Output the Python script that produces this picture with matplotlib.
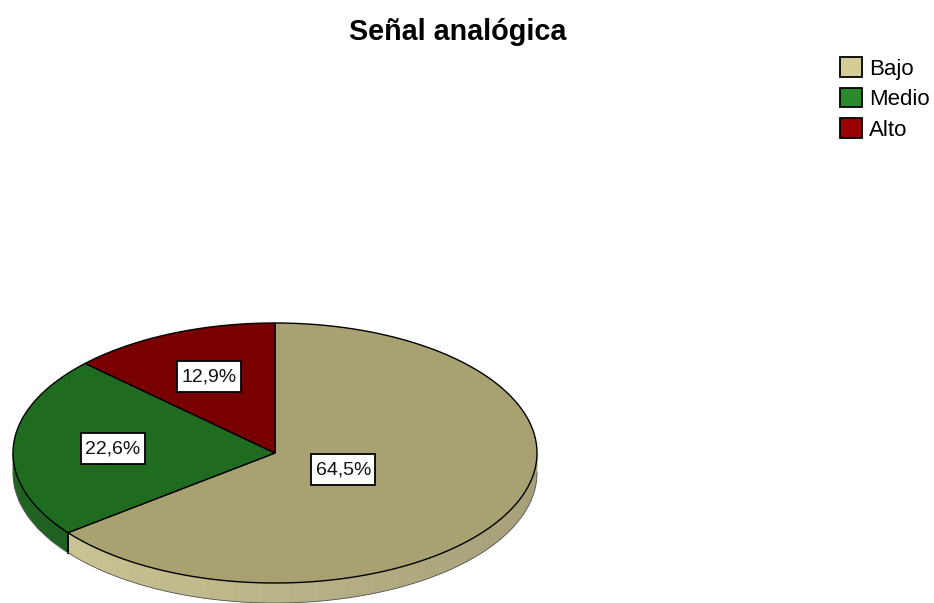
import numpy as np
import matplotlib
matplotlib.use("Agg")
import matplotlib.pyplot as plt
from matplotlib.patches import Polygon, Patch, Rectangle
import matplotlib.colors as mcolors

plt.rcParams['font.family'] = ['Liberation Sans', 'DejaVu Sans']

title = "Señal analógica"
categories = ["Bajo", "Medio", "Alto"]
percents = [64.5, 22.6, 12.9]
labels = ["64,5%", "22,6%", "12,9%"]
top_colors = ["#A8A272", "#1F6B1F", "#780000"]
legend_colors = ["#D4CD98", "#288A28", "#9A0000"]
side_colors = ["#C8C192", "#1F6020", "#600000"]
label_radius = [0.29, 0.62, 0.64]

W, H = 934, 603
fig = plt.figure(figsize=(W / 100, H / 100), dpi=100)
ax = fig.add_axes([0, 0, 1, 1])
ax.set_xlim(0, W)
ax.set_ylim(H, 0)
ax.axis('off')

cx, cy, rx, ry, depth = 275, 453, 262, 130, 20


def pt(theta_deg, dy=0.0, r=1.0):
    t = np.radians(theta_deg)
    return cx + r * rx * np.cos(t), cy - r * ry * np.sin(t) + dy


# slice angle ranges (clockwise from 12 o'clock)
total = sum(percents)
bounds = [90.0]
for p in percents:
    bounds.append(bounds[-1] - p / total * 360.0)

# side walls (front half: angles in [-180, 0])
for i in range(len(percents)):
    a_hi, a_lo = bounds[i], bounds[i + 1]
    lo, hi = max(a_lo, -180.0), min(a_hi, 0.0)
    if lo >= hi:
        continue
    n = max(2, int((hi - lo) / 6) + 1)
    ts = np.linspace(lo, hi, n)
    base = np.array(mcolors.to_rgb(side_colors[i]))
    for t1, t2 in zip(ts[:-1], ts[1:]):
        tm = 0.5 * (t1 + t2)
        f = 0.93 - 0.10 * np.cos(np.radians(tm))
        col = np.clip(base * f, 0, 1)
        quad = [pt(t1), pt(t2), pt(t2, depth), pt(t1, depth)]
        ax.add_patch(Polygon(quad, closed=True, facecolor=col, edgecolor=col, lw=0.6))
    for t in (lo, hi):
        if -179.9 < t < -0.1:
            x0, y0 = pt(t)
            ax.plot([x0, x0], [y0, y0 + depth], color='black', lw=1.2)
    tt = np.linspace(lo, hi, 100)
    xs, ys = zip(*[pt(t, depth) for t in tt])
    ax.plot(xs, ys, color='#555555', lw=0.6)

# top wedges
for i in range(len(percents)):
    tt = np.linspace(bounds[i], bounds[i + 1], 200)
    poly = [(cx, cy)] + [pt(t) for t in tt]
    ax.add_patch(Polygon(poly, closed=True, facecolor=top_colors[i],
                         edgecolor='black', lw=1.0, joinstyle='miter'))

# labels with boxes
fig.canvas.draw()
renderer = fig.canvas.get_renderer()
for i in range(len(percents)):
    mid = 0.5 * (bounds[i] + bounds[i + 1])
    x, y = pt(mid, r=label_radius[i])
    t = ax.text(x, y, labels[i], ha='center', va='center', fontsize=14, color='#111111', zorder=5)
    bb = t.get_window_extent(renderer=renderer)
    w = bb.width + 9
    h = 31
    ax.add_patch(Rectangle((x - w / 2, y - h / 2), w, h, facecolor='white',
                           edgecolor='black', lw=1.3, zorder=4))

# title
fig.text(458 / W, 1 - 40 / H, title, ha='center', va='baseline', fontsize=20.7, fontweight='bold')

# legend
handles = [Patch(facecolor=c, edgecolor='black', lw=1.3, label=l)
           for c, l in zip(legend_colors, categories)]
ax.legend(handles=handles, loc='upper left', bbox_to_anchor=(840 / W, 1 - 57 / H),
          frameon=False, fontsize=16, handlelength=1.0, handleheight=1.0,
          handletextpad=0.3, labelspacing=0.36, borderpad=0, borderaxespad=0)

fig.savefig("out.png", dpi=100)
